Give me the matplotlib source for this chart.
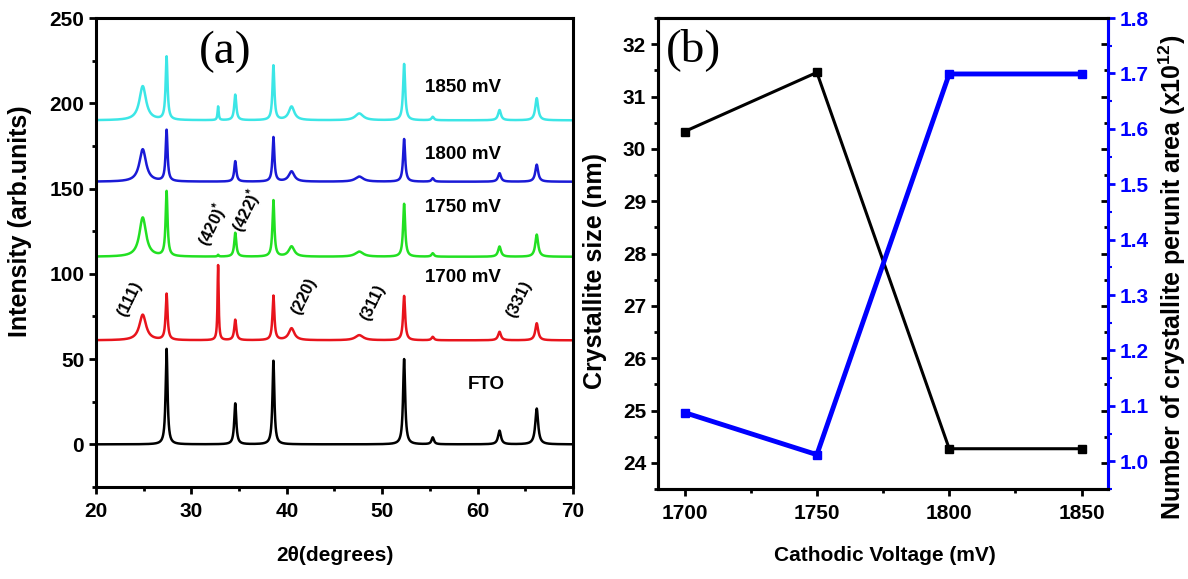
import numpy as np
import matplotlib
matplotlib.use("Agg")
import matplotlib.pyplot as plt
from matplotlib.ticker import MultipleLocator

plt.rcParams['font.family'] = ['Liberation Sans', 'DejaVu Sans']
plt.rcParams['font.weight'] = 'bold'
plt.rcParams['axes.labelweight'] = 'bold'
plt.rcParams['mathtext.fontset'] = 'custom'
plt.rcParams['mathtext.rm'] = 'Liberation Sans:bold'
plt.rcParams['mathtext.default'] = 'regular'

# ---- panel (a): XRD peaks ----
peak_pos = [24.9, 27.4, 32.8, 34.6, 38.6, 40.5, 47.6, 52.3, 55.3, 62.3, 66.2]
peak_hwhm = [0.42, 0.12, 0.07, 0.13, 0.12, 0.35, 0.50, 0.13, 0.15, 0.18, 0.18]
series_names = ['FTO', '1700 mV', '1750 mV', '1800 mV', '1850 mV']
series_base = [0, 61, 110, 154, 190]
series_heights = [
    [0, 56, 0, 24, 49, 0, 0, 50, 4, 8, 21],
    [15, 27, 44, 12, 26, 7, 3, 26, 2, 5, 10],
    [23, 38, 1, 14, 33, 6, 3, 31, 2, 6, 13],
    [19, 30, 0, 12, 26, 6, 3, 25, 2, 5, 10],
    [20, 37, 8, 15, 32, 8, 4, 33, 2, 6, 13],
]
series_colors = ['black', '#e8141c', '#22e022', '#1a1ad6', '#3ce6e6']
label_pos = [(59.0, 35), (54.5, 98), (54.5, 139), (54.5, 170), (54.5, 209)]
hkl_text = ['(111)', '(220)', '(311)', '(331)', r'(420)$^{*}$', r'(422)$^{*}$']
hkl_pos = [(23.5, 85), (41.8, 87), (49.0, 83), (64.3, 85), (32.2, 129), (35.8, 137)]

# ---- panel (b) ----
voltage = [1700, 1750, 1800, 1850]
crystallite_size = [30.33, 31.46, 24.27, 24.27]
crystallite_number = [1.088, 1.012, 1.699, 1.699]

fig = plt.figure(figsize=(11.88, 5.79), dpi=100)
ax = fig.add_axes([0.0808, 0.1589, 0.4015, 0.810])
bx = fig.add_axes([0.5539, 0.1554, 0.3788, 0.8135])

two_theta = np.linspace(20, 70, 3001)
for base, heights, color in zip(series_base, series_heights, series_colors):
    y = np.full_like(two_theta, float(base))
    for p, w, h in zip(peak_pos, peak_hwhm, heights):
        y += h / (1 + ((two_theta - p) / w) ** 2)
    ax.plot(two_theta, y, color=color, lw=1.8)

for name, (x, y) in zip(series_names, label_pos):
    ax.text(x, y, name, fontsize=13.5, va='center', ha='left')
for t, (x, y) in zip(hkl_text, hkl_pos):
    ax.text(x, y, t, fontsize=12, rotation=64, ha='center', va='center')
ax.text(33.5, 230, '(a)', family='Liberation Serif', weight='normal', fontsize=34,
        ha='center', va='center')

ax.set_xlim(20, 70)
ax.set_ylim(-25, 250)
ax.xaxis.set_major_locator(MultipleLocator(10))
ax.xaxis.set_minor_locator(MultipleLocator(5))
ax.yaxis.set_major_locator(MultipleLocator(50))
ax.yaxis.set_minor_locator(MultipleLocator(25))
ax.set_xlabel('2θ(degrees)', fontsize=15)
ax.set_ylabel('Intensity (arb.units)', fontsize=18)
ax.xaxis.set_label_coords(0.5, -0.125)
ax.yaxis.set_label_coords(-0.134, 0.567)

# panel (b)
bx.plot(voltage, crystallite_size, color='black', lw=2.2, marker='s', ms=5.5)
bx2 = bx.twinx()
bx2.plot(voltage, crystallite_number, color='#0000ff', lw=3.5, marker='s', ms=5.5)

bx.set_xlim(1690, 1860)
bx.set_ylim(23.5, 32.5)
bx2.set_ylim(0.95, 1.8)
bx.xaxis.set_major_locator(MultipleLocator(50))
bx.xaxis.set_minor_locator(MultipleLocator(25))
bx.yaxis.set_major_locator(MultipleLocator(1))
bx.yaxis.set_minor_locator(MultipleLocator(0.5))
bx2.yaxis.set_major_locator(MultipleLocator(0.1))
bx2.yaxis.set_minor_locator(MultipleLocator(0.05))
bx.set_xlabel('Cathodic Voltage (mV)', fontsize=15)
bx.set_ylabel('Crystallite size (nm)', fontsize=18)
bx2.set_ylabel('Number of crystallite perunit area (x10$^{12}$)', fontsize=18)
bx.xaxis.set_label_coords(0.503, -0.12)
bx.yaxis.set_label_coords(-0.113, 0.463)
bx2.yaxis.set_label_coords(1.108, 0.45)
bx.text(1693, 31.9, '(b)', family='Liberation Serif', weight='normal', fontsize=34,
        ha='left', va='center')

for a in (ax, bx):
    for s in a.spines.values():
        s.set_linewidth(2.2)
    a.tick_params(which='major', direction='out', length=5, width=2, labelsize=15)
    a.tick_params(axis='x', which='major', pad=6)
    a.tick_params(which='minor', direction='out', length=3, width=2)

# mirrored black ticks of the left axis on the right spine
sec = bx.secondary_yaxis('right')
sec.yaxis.set_major_locator(MultipleLocator(1))
sec.yaxis.set_minor_locator(MultipleLocator(0.5))
sec.tick_params(which='both', direction='in', length=5, width=2, labelright=False)
sec.tick_params(which='minor', length=3)
sec.spines['right'].set_visible(False)

for s in bx2.spines.values():
    s.set_linewidth(2.2)
bx2.spines['right'].set_color('#0000ff')
bx2.tick_params(axis='y', which='major', colors='#0000ff', direction='out', length=5,
                width=2, labelsize=15)
bx2.tick_params(axis='y', which='minor', colors='#0000ff', direction='out', length=3, width=1.5)

fig.savefig('out.png', dpi=100)
